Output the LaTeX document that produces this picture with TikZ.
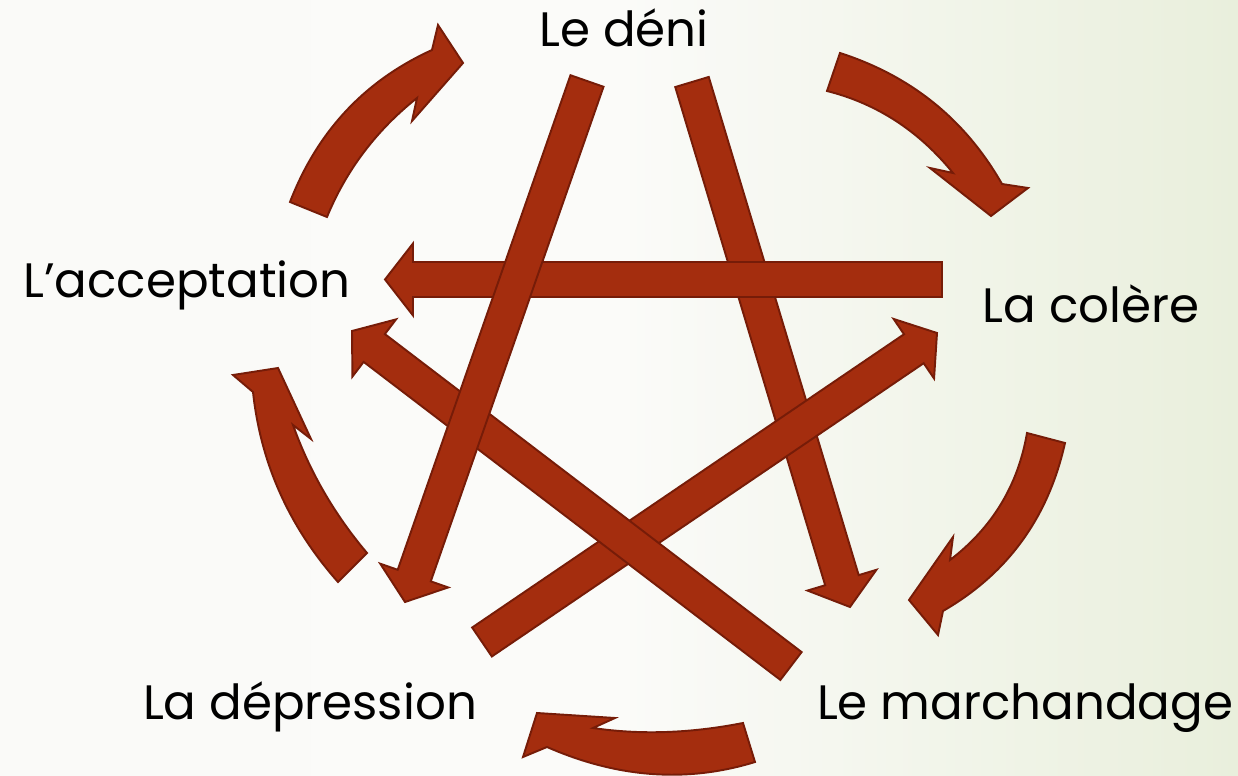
\documentclass[tikz,border=0pt]{standalone}
\usepackage{fontspec}
\setmainfont{Poppins}
\usetikzlibrary{calc}
\definecolor{rust}{RGB}{164,45,14}
\definecolor{rustedge}{RGB}{118,28,8}
\definecolor{bgL}{RGB}{250,250,248}
\definecolor{bgM}{RGB}{251,251,249}
\definecolor{bgR}{RGB}{233,239,220}
\newcommand\sarrow[2]{%
  \coordinate (#2h) at ($(#2)!0.56cm!(#1)$);
  \draw[blk] ($(#1)!0.35cm!90:(#2)$) -- ($(#2h)!0.35cm!-90:(#1)$) -- ($(#2h)!0.72cm!-90:(#1)$) -- (#2)
    -- ($(#2h)!0.72cm!90:(#1)$) -- ($(#2h)!0.35cm!90:(#1)$) -- ($(#1)!0.35cm!-90:(#2)$) -- cycle;}
\newcommand\carrow[1]{%
  \coordinate (#1qo) at ($2*(#1om)-0.5*(#1to)-0.5*(#1ob)$);
  \coordinate (#1qi) at ($2*(#1im)-0.5*(#1ti)-0.5*(#1n)$);
  \draw[blk] (#1to) .. controls ($(#1to)!0.6667!(#1qo)$) and ($(#1ob)!0.6667!(#1qo)$) .. (#1ob)
    -- (#1bo) -- (#1tp) -- (#1bi) -- (#1n)
    .. controls ($(#1n)!0.6667!(#1qi)$) and ($(#1ti)!0.6667!(#1qi)$) .. (#1ti) -- cycle;}
\begin{document}
\begin{tikzpicture}[x=0.02cm,y=-0.02cm,
  blk/.style={fill=rust,draw=rustedge,line width=1.1pt,line join=miter},
  lbl/.style={font=\fontsize{27.5}{32}\selectfont,anchor=base,inner sep=0pt,text=black}]
\useasboundingbox (0,0) rectangle (1238,776);
\shade[left color=bgL,right color=bgR,middle color=bgM] (0,0) rectangle (1238,776);
% labels
\node[lbl] (deni) at (624,47) {Le déni};
\node[lbl] (colere) at (1091,323) {La colère};
\node[lbl] (marchand) at (1025,720) {Le marchandage};
\node[lbl] (depress) at (310,720) {La dépression};
\node[lbl] (accept) at (187,298) {L’acceptation};
% straight arrows: tails and tips
\coordinate (a1t) at (587,81);  \coordinate (a1h) at (405,602);
\coordinate (a2t) at (692,82);  \coordinate (a2h) at (850,607);
\coordinate (a3t) at (942,279.5); \coordinate (a3h) at (385,279.5);
\coordinate (a4t) at (482,642); \coordinate (a4h) at (937,333);
\coordinate (a5t) at (791,666); \coordinate (a5h) at (352,331);
\sarrow{a2t}{a2h}
\sarrow{a3t}{a3h}
\sarrow{a4t}{a4h}
\sarrow{a5t}{a5h}
\sarrow{a1t}{a1h}
% curved arrows
% top right
\coordinate (TRto) at (840,53);  \coordinate (TRti) at (827,91);
\coordinate (TRom) at (934,103); \coordinate (TRim) at (896,121);
\coordinate (TRob) at (1002,184); \coordinate (TRbo) at (1028,188);
\coordinate (TRtp) at (991,216); \coordinate (TRbi) at (930,168);
\coordinate (TRn) at (953,173);
\carrow{TR}
% top left
\coordinate (TLto) at (290,202); \coordinate (TLti) at (327,217);
\coordinate (TLom) at (346,111); \coordinate (TLim) at (364,152);
\coordinate (TLob) at (432,50);  \coordinate (TLbo) at (438,25);
\coordinate (TLtp) at (463,63);  \coordinate (TLbi) at (412,121);
\coordinate (TLn) at (417,98);
\carrow{TL}
% left
\coordinate (Lto) at (338,582); \coordinate (Lti) at (367,553);
\coordinate (Lom) at (280,493); \coordinate (Lim) at (324,492);
\coordinate (Lob) at (253,392); \coordinate (Lbo) at (233,375);
\coordinate (Ltp) at (278,368); \coordinate (Lbi) at (311,439);
\coordinate (Ln) at (293,425);
\carrow{L}
% right
\coordinate (Rto) at (1065,443); \coordinate (Rti) at (1027,433);
\coordinate (Rom) at (1022,541); \coordinate (Rim) at (1001,504);
\coordinate (Rob) at (943,611);  \coordinate (Rbo) at (938,635);
\coordinate (Rtp) at (909,600);  \coordinate (Rbi) at (953,537);
\coordinate (Rn) at (950,560);
\carrow{R}
% bottom
\coordinate (Bto) at (755,762); \coordinate (Bti) at (743,723);
\coordinate (Bom) at (652,774); \coordinate (Bim) at (666,732);
\coordinate (Bob) at (547,747); \coordinate (Bbo) at (523,757);
\coordinate (Btp) at (537,713); \coordinate (Bbi) at (615,718);
\coordinate (Bn) at (593,728);
\carrow{B}
\end{tikzpicture}
\end{document}
